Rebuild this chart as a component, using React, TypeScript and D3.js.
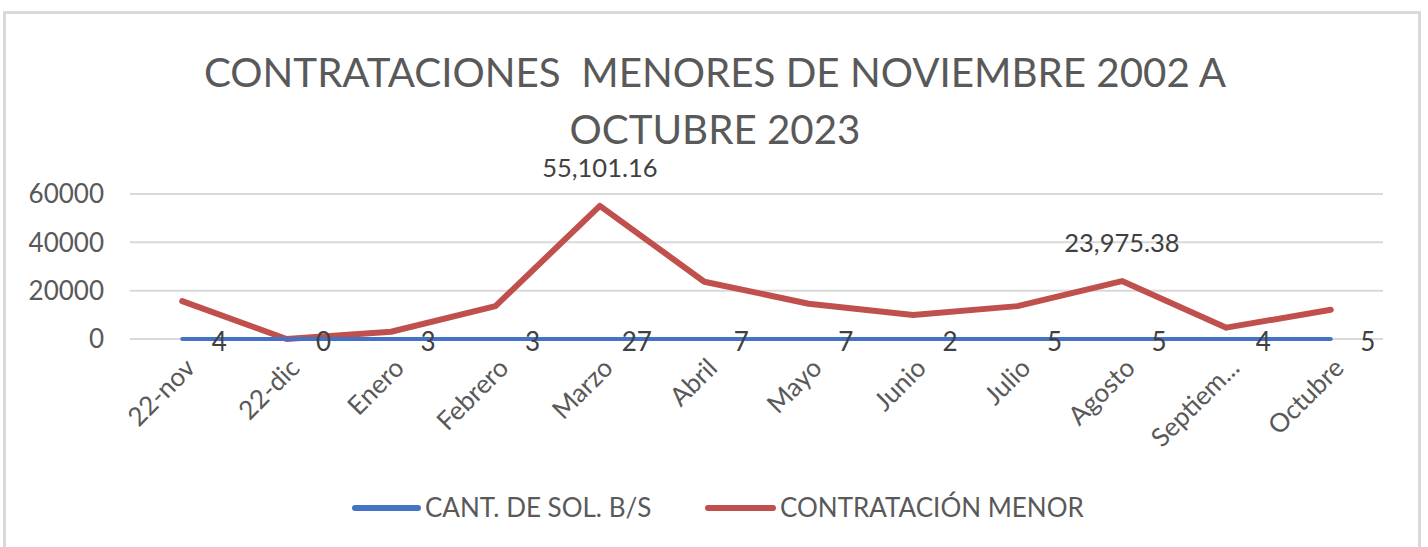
import React from "react";
import * as d3 from "d3";

const categories = ["22-nov", "22-dic", "Enero", "Febrero", "Marzo", "Abril", "Mayo", "Junio", "Julio", "Agosto", "Septiem...", "Octubre"];
const cantSol = [4, 0, 3, 3, 27, 7, 7, 2, 5, 5, 4, 5];
const contratacion = [15700, 0, 3000, 13600, 55101.16, 23700, 14600, 9900, 13600, 23975.38, 4700, 12100];
const redLabels: (string | null)[] = [null, null, null, null, "55,101.16", null, null, null, null, "23,975.38", null, null];
const yTicks = [0, 20000, 40000, 60000];
const titleLines = ["CONTRATACIONES  MENORES DE NOVIEMBRE 2002 A", "OCTUBRE 2023"];
const seriesNames = ["CANT. DE SOL. B/S", "CONTRATACIÓN MENOR"];

const W = 1428;
const H = 547;
const FONT = "Lato, 'Open Sans', sans-serif";
const BLUE = "#4472C4";
const RED = "#C0504D";
const TXT = "#595959";

export default function App() {
  const x = d3.scaleBand<string>().domain(categories).range([130, 1383]).padding(0);
  const cx = (c: string) => (x(c) as number) + x.bandwidth() / 2;
  const y = d3.scaleLinear().domain([0, 60000]).range([339, 194]);
  const line = d3
    .line<number>()
    .x((_, i) => cx(categories[i]))
    .y((d) => y(d));

  return (
    <svg width={W} height={H} style={{ position: "absolute", left: 0, top: 0, display: "block" }} fontFamily={FONT}>
      <rect x={0} y={0} width={W} height={H} fill="#fff" />
      <rect x={4.5} y={12.5} width={1415} height={560} fill="#fff" stroke="#d9d9d9" strokeWidth={3} />
      {titleLines.map((t, i) => (
        <text key={i} x={715} y={87 + i * 57} textAnchor="middle" fontSize={40.3} fill={TXT} style={{ whiteSpace: "pre" }}>
          {t}
        </text>
      ))}
      {yTicks.map((t) => (
        <g key={t}>
          <line x1={130} x2={1383} y1={y(t)} y2={y(t)} stroke="#d9d9d9" strokeWidth={2} />
          <text x={104} y={y(t)} dy="0.36em" textAnchor="end" fontSize={26} fill={TXT}>
            {t}
          </text>
        </g>
      ))}
      <path d={line(contratacion) || ""} fill="none" stroke={RED} strokeWidth={6} strokeLinejoin="round" strokeLinecap="round" />
      <path d={line(cantSol) || ""} fill="none" stroke={BLUE} strokeWidth={4} strokeLinejoin="round" strokeLinecap="round" />
      {cantSol.map((v, i) => (
        <text key={i} x={cx(categories[i]) + 37} y={y(v) + 3} dy="0.36em" textAnchor="middle" fontSize={26} fill="#404040">
          {v}
        </text>
      ))}
      {contratacion.map((v, i) =>
        redLabels[i] ? (
          <text key={i} x={cx(categories[i])} y={y(v) - 38} dy="0.36em" textAnchor="middle" fontSize={25.5} fill="#404040">
            {redLabels[i]}
          </text>
        ) : null
      )}
      {categories.map((c) => (
        <text
          key={c}
          transform={`translate(${cx(c) + 8},${363}) rotate(-45)`}
          textAnchor="end"
          dy="0.36em"
          fontSize={26}
          fill={TXT}
        >
          {c}
        </text>
      ))}
      <g>
        <line x1={355} x2={418} y1={508} y2={508} stroke={BLUE} strokeWidth={6} strokeLinecap="round" />
        <text x={425} y={508} dy="0.36em" fontSize={26} fill={TXT}>
          {seriesNames[0]}
        </text>
        <line x1={708} x2={773} y1={508} y2={508} stroke={RED} strokeWidth={6} strokeLinecap="round" />
        <text x={780} y={508} dy="0.36em" fontSize={26} fill={TXT}>
          {seriesNames[1]}
        </text>
      </g>
    </svg>
  );
}
